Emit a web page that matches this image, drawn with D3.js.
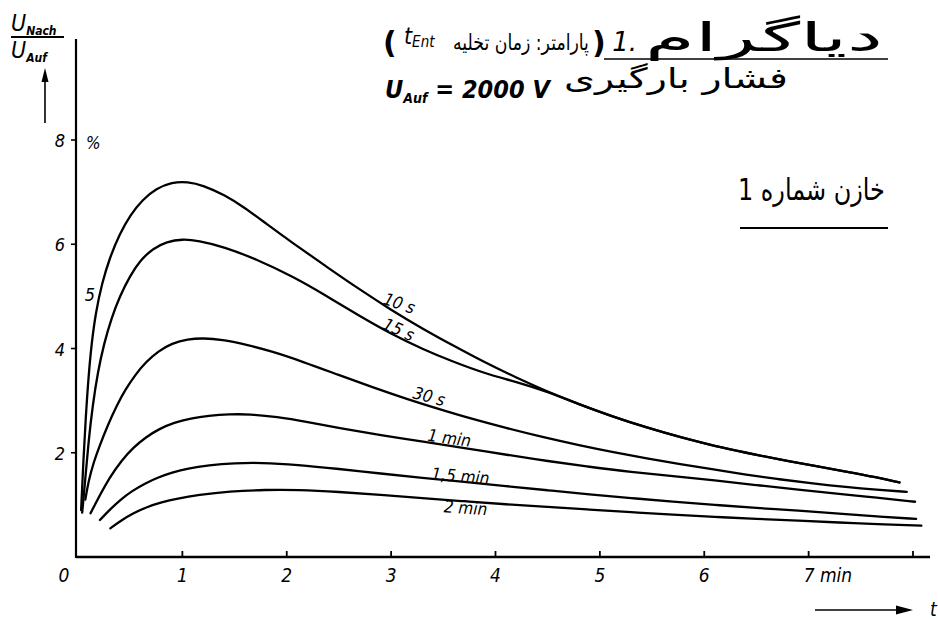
<!DOCTYPE html>
<html>
<head>
<meta charset="utf-8">
<script src="https://cdn.jsdelivr.net/npm/d3@7/dist/d3.min.js"></script>
<style>
  html, body { margin: 0; padding: 0; background: #fff; }
  svg { display: block; }
  .lbl { font-family: "DejaVu Sans Condensed", "DejaVu Sans", sans-serif; font-stretch: condensed; font-style: italic; fill: #000; }
  .fa { font-family: "DejaVu Sans", sans-serif; fill: #000; }
</style>
</head>
<body>
<script>
// Voltage ratio U_Nach / U_Auf (%) against time t (min), one curve per discharge time t_Ent
const xTicks = [0, 1, 2, 3, 4, 5, 6, 7];
const xTickMarks = [1, 2, 3, 4, 5, 6, 7, 8];
const yTicks = [2, 4, 6, 8];

const seriesNames = ["10 s", "15 s", "30 s", "1 min", "1,5 min", "2 min"];

const s10 = [[0.03,0.9],[0.05,1.8],[0.08,2.9],[0.12,3.95],[0.17,4.7],[0.23,5.25],[0.3,5.72],[0.4,6.2],[0.5,6.56],[0.62,6.86],[0.75,7.07],[0.9,7.19],[1.05,7.2],[1.2,7.13],[1.4,6.95],[1.6,6.7],[1.8,6.4],[2.06,6.02],[2.38,5.57],[2.7,5.13],[3.0,4.74],[3.3,4.38],[3.6,4.05],[3.9,3.73],[4.2,3.44],[4.5,3.17],[4.8,2.93],[5.1,2.71],[5.45,2.48],[5.8,2.28],[6.1,2.13],[6.4,2.0],[6.72,1.87],[7.05,1.75],[7.36,1.64],[7.65,1.53],[7.87,1.43]];
const s15 = [[0.04,0.85],[0.07,1.5],[0.1,2.2],[0.14,2.9],[0.19,3.55],[0.25,4.1],[0.32,4.58],[0.4,5.0],[0.5,5.4],[0.6,5.7],[0.72,5.92],[0.85,6.05],[1.0,6.1],[1.15,6.07],[1.4,5.95],[1.7,5.72],[2.06,5.38],[2.38,5.01],[2.7,4.62],[3.0,4.28],[3.3,3.99],[3.6,3.74],[3.9,3.52],[4.2,3.36],[4.5,3.17],[4.8,2.93],[5.1,2.71],[5.45,2.48],[5.8,2.28],[6.1,2.13],[6.4,2.0],[6.72,1.87],[7.05,1.75],[7.36,1.64],[7.65,1.53],[7.87,1.43]];
const s30 = [[0.07,1.1],[0.1,1.45],[0.15,1.82],[0.21,2.15],[0.29,2.55],[0.37,2.9],[0.45,3.2],[0.55,3.5],[0.65,3.74],[0.77,3.95],[0.9,4.1],[1.05,4.18],[1.2,4.2],[1.38,4.17],[1.6,4.08],[1.85,3.95],[2.15,3.75],[2.5,3.49],[2.83,3.25],[3.15,3.03],[3.47,2.83],[3.79,2.64],[4.11,2.47],[4.43,2.31],[4.81,2.14],[5.13,2.01],[5.45,1.89],[5.77,1.78],[6.09,1.68],[6.4,1.58],[6.72,1.49],[7.04,1.41],[7.36,1.34],[7.65,1.29],[7.94,1.25]];
const s60 = [[0.12,0.84],[0.2,1.15],[0.3,1.52],[0.42,1.86],[0.53,2.1],[0.65,2.3],[0.78,2.46],[0.92,2.58],[1.08,2.66],[1.25,2.71],[1.45,2.74],[1.65,2.74],[1.9,2.69],[2.2,2.59],[2.51,2.47],[2.9,2.34],[3.31,2.21],[3.7,2.09],[4.11,1.96],[4.5,1.84],[4.9,1.73],[5.3,1.63],[5.7,1.55],[6.1,1.47],[6.5,1.38],[6.9,1.29],[7.3,1.21],[7.65,1.14],[8.02,1.06]];
const s90 = [[0.21,0.71],[0.3,0.9],[0.4,1.09],[0.52,1.27],[0.64,1.41],[0.77,1.53],[0.9,1.62],[1.05,1.7],[1.25,1.76],[1.5,1.8],[1.75,1.81],[2.1,1.77],[2.5,1.69],[2.9,1.6],[3.3,1.52],[3.7,1.44],[4.1,1.36],[4.5,1.28],[4.9,1.2],[5.3,1.13],[5.7,1.06],[6.1,1.0],[6.5,0.94],[6.9,0.89],[7.3,0.83],[7.65,0.78],[8.03,0.73]];
const s120 = [[0.31,0.55],[0.42,0.71],[0.53,0.84],[0.66,0.96],[0.8,1.05],[0.95,1.12],[1.15,1.19],[1.45,1.26],[1.8,1.29],[2.1,1.29],[2.5,1.25],[2.9,1.19],[3.3,1.13],[3.7,1.07],[4.1,1.01],[4.5,0.96],[4.9,0.91],[5.3,0.86],[5.7,0.81],[6.1,0.77],[6.5,0.73],[6.9,0.7],[7.3,0.66],[7.65,0.63],[8.08,0.6]];

const seriesValues = [s10, s15, s30, s60, s90, s120];

// where each curve name sits: [t, value at text baseline, rotation in degrees]
const labelPlacement = [[3.06, 4.76, 19], [3.05, 4.26, 24], [3.35, 2.97, 15], [3.55, 2.17, 8], [3.66, 1.44, 5], [3.71, 0.83, 4]];

const W = 938, H = 619;
const svg = d3.select("body").append("svg").attr("width", W).attr("height", H);

const x = d3.scaleLinear().domain([0, 8]).range([78, 913]);
const y = d3.scaleLinear().domain([0, 8]).range([557, 140]);

// axes frame
svg.append("line").attr("x1", 76).attr("x2", 930).attr("y1", y(0)).attr("y2", y(0))
  .attr("stroke", "#000").attr("stroke-width", 2.4);
svg.append("line").attr("x1", 76).attr("x2", 76).attr("y1", y(0) + 1).attr("y2", 39)
  .attr("stroke", "#000").attr("stroke-width", 2.2);

// x ticks (small upward marks) and labels
svg.append("g").selectAll("line").data(xTickMarks).join("line")
  .attr("x1", d => x(d)).attr("x2", d => x(d))
  .attr("y1", y(0)).attr("y2", y(0) - 6)
  .attr("stroke", "#000").attr("stroke-width", 1.8);
svg.append("g").selectAll("text").data(xTicks).join("text")
  .attr("class", "lbl")
  .attr("x", d => d === 0 ? x(0) - 14 : x(d))
  .attr("y", y(0) + 25)
  .attr("text-anchor", d => d === 7 ? "start" : "middle")
  .attr("dx", d => d === 7 ? -5 : 0)
  .attr("font-size", 19)
  .text(d => d === 7 ? "7 min" : d);

// y ticks (to the left) and labels
svg.append("g").selectAll("line").data(yTicks).join("line")
  .attr("x1", 76).attr("x2", 71)
  .attr("y1", d => y(d)).attr("y2", d => y(d))
  .attr("stroke", "#000").attr("stroke-width", 1.6);
svg.append("g").selectAll("text").data(yTicks).join("text")
  .attr("class", "lbl")
  .attr("x", 65).attr("y", d => y(d) + 7)
  .attr("text-anchor", "end")
  .attr("font-size", 18)
  .text(d => d);
svg.append("text").attr("class", "lbl").attr("x", 86).attr("y", y(8) + 9)
  .attr("font-size", 17).text("%");

// curves
const line = d3.line()
  .x(d => x(d[0])).y(d => y(d[1]))
  .curve(d3.curveBasis);
svg.append("g").selectAll("path").data(seriesValues).join("path")
  .attr("d", line)
  .attr("fill", "none").attr("stroke", "#000")
  .attr("stroke-width", 2.3).attr("stroke-linecap", "round");

// curve names
svg.append("g").selectAll("text").data(seriesNames).join("text")
  .attr("class", "lbl")
  .attr("font-size", 17)
  .attr("text-anchor", "middle")
  .attr("transform", (d, i) => {
    const p = labelPlacement[i];
    return `translate(${x(p[0])},${y(p[1])}) rotate(${p[2]})`;
  })
  .text(d => d);
svg.append("text").attr("class", "lbl").attr("x", 90).attr("y", 301)
  .attr("font-size", 18).attr("text-anchor", "middle").text("5");

// y-axis quantity: U_Nach / U_Auf with upward arrow
const yq = svg.append("g").attr("class", "lbl");
const num = yq.append("text").attr("x", 11).attr("y", 31).attr("font-size", 23);
num.append("tspan").text("U");
num.append("tspan").attr("font-size", 12).attr("font-weight", "bold").attr("dy", 4).text("Nach");
yq.append("line").attr("x1", 11).attr("x2", 64).attr("y1", 37).attr("y2", 37)
  .attr("stroke", "#000").attr("stroke-width", 1.8);
const den = yq.append("text").attr("x", 11).attr("y", 58).attr("font-size", 23);
den.append("tspan").text("U");
den.append("tspan").attr("font-size", 12).attr("font-weight", "bold").attr("dy", 4).text("Auf");
yq.append("line").attr("x1", 45).attr("x2", 45).attr("y1", 123).attr("y2", 78)
  .attr("stroke", "#000").attr("stroke-width", 1.6);
yq.append("path").attr("d", "M45,68 L41.5,82 L48.5,82 Z").attr("fill", "#000");

// x-axis quantity arrow with t
svg.append("line").attr("x1", 815).attr("x2", 898).attr("y1", 610).attr("y2", 610)
  .attr("stroke", "#000").attr("stroke-width", 1.6);
svg.append("path").attr("d", "M913,610 L896,605.5 L896,614.5 Z").attr("fill", "#000");
svg.append("text").attr("class", "lbl").attr("x", 930).attr("y", 616)
  .attr("font-size", 19).text("t");

// title block; Persian phrases are widened with a horizontal scale so letters stay joined
const title = svg.append("g");
function persian(str, size, left, baseline, width) {
  const t = title.append("text").attr("class", "fa").attr("x", 0).attr("y", 0)
    .attr("font-size", size).text(str);
  const w = t.node().getComputedTextLength();
  t.attr("transform", `translate(${left},${baseline}) scale(${width / w},1)`);
  return t;
}
persian("دیاگرام", 40, 645, 51, 238);
// number of the diagram, set right-to-left (trailing RLM keeps the dot on the left)
title.append("text").attr("class", "fa").attr("x", 637).attr("y", 51)
  .attr("text-anchor", "end").attr("font-size", 26).attr("font-style", "italic")
  .text("1.\u200F");
title.append("line").attr("x1", 604).attr("x2", 888).attr("y1", 59).attr("y2", 59)
  .attr("stroke", "#000").attr("stroke-width", 1.6);
persian("پارامتر: زمان تخلیه", 22, 453, 50, 136);
title.append("text").attr("class", "fa").attr("x", 592).attr("y", 53)
  .attr("font-size", 30).attr("font-weight", "bold").text(")");
title.append("text").attr("class", "fa").attr("x", 383).attr("y", 53)
  .attr("font-size", 30).attr("font-weight", "bold").text("(");
const tEnt = title.append("text").attr("class", "lbl").attr("x", 404).attr("y", 44).attr("font-size", 23);
tEnt.append("tspan").text("t");
tEnt.append("tspan").attr("font-size", 15).attr("dy", 3).text("Ent");

const u = title.append("text").attr("class", "lbl").attr("x", 385).attr("y", 98)
  .attr("font-size", 25).attr("font-weight", "bold");
u.append("tspan").text("U");
u.append("tspan").attr("font-size", 14).attr("dy", 5).text("Auf");
u.append("tspan").attr("dy", -5).text(" = 2000 V");
persian("فشار بارگیری", 28, 564, 88, 224);

persian("خازن شماره 1", 30, 738, 200, 147);
title.append("line").attr("x1", 740).attr("x2", 888).attr("y1", 228).attr("y2", 228)
  .attr("stroke", "#000").attr("stroke-width", 2.2);
</script>
</body>
</html>
